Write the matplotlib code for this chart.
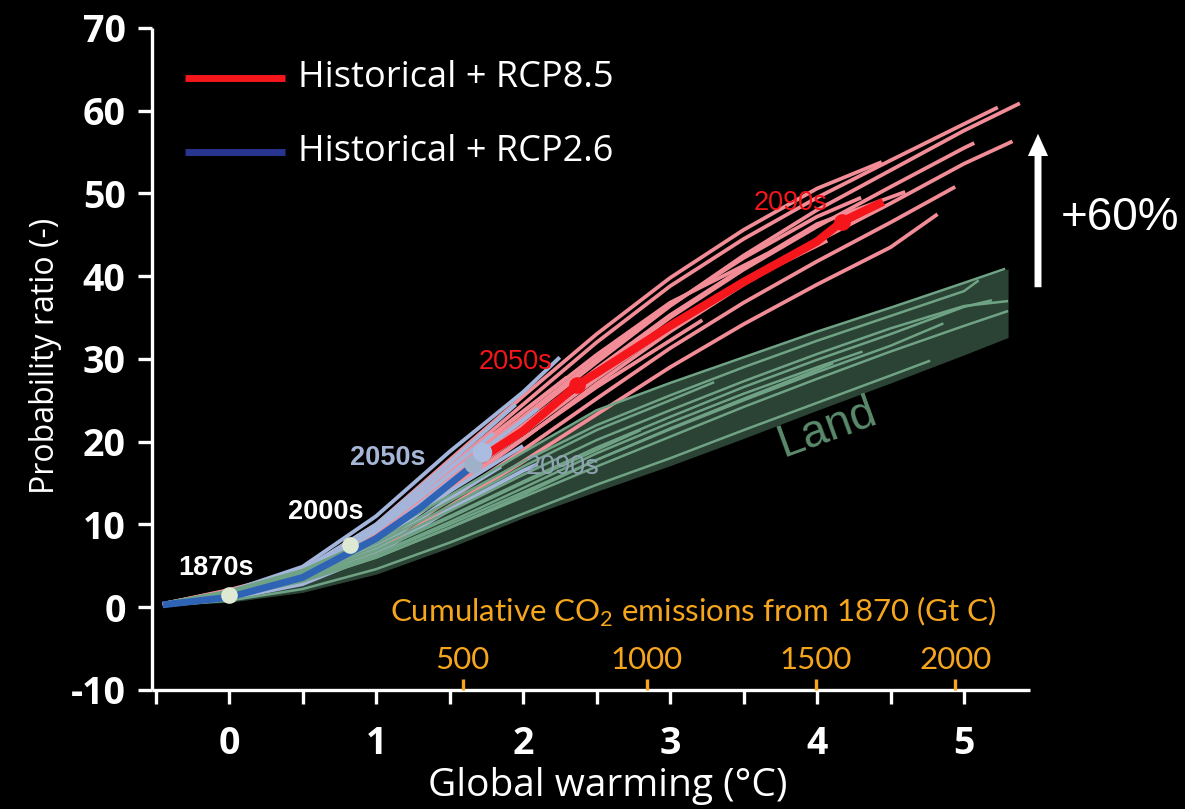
import numpy as np
import matplotlib
matplotlib.use("Agg")
import matplotlib.pyplot as plt
from matplotlib.patches import FancyArrowPatch
import matplotlib.transforms as mtransforms

# ---------------------------------------------------------------------------
# Data: probability ratio of hot extremes vs. global warming (deg C)
# ---------------------------------------------------------------------------
warming_nodes = [-0.45, 0.0, 0.5, 1.0, 1.5, 2.0, 2.5, 3.0, 3.5, 4.0, 4.5, 5.0]

# RCP8.5 ensemble members: values at the warming nodes, then the final point
rcp85_members = [
    [0.4, 1.8, 3.8, 8.8, 15.8, 22.6, 29.6, 36.4, 42.5, 48.0, 52.8, 57.6],
    [0.4, 2.0, 4.2, 9.6, 17.0, 24.5, 32.0, 38.8, 44.5, 49.5, 54.0, 58.4],
    [0.3, 1.6, 3.6, 8.4, 15.0, 21.5, 28.5, 35.0, 40.8, 46.0, 50.8, 55.5],
    [0.3, 1.5, 3.3, 7.7, 14.0, 20.3, 27.0, 33.3, 39.0, 44.2, 48.8, 53.6],
    [0.4, 2.1, 4.4, 10.0, 17.8, 25.5, 33.0, 39.8, 45.6, 50.6],
    [0.3, 1.4, 3.1, 7.2, 13.0, 19.0, 25.2, 31.3, 36.8, 41.8, 46.5],
    [0.3, 1.3, 2.9, 6.7, 12.2, 17.6, 23.3, 29.0, 34.2, 39.0, 43.5],
    [0.3, 1.6, 3.5, 8.2, 14.8, 21.0, 27.6, 33.8, 39.3],
    [0.4, 1.9, 3.9, 9.1, 16.5, 23.6, 30.5, 36.8],
    [0.3, 1.5, 3.4, 8.0, 14.3, 20.4, 26.6],
    [0.3, 1.7, 3.7, 8.6, 15.5, 22.0, 28.8, 35.3, 41.0, 46.3],
    [0.4, 1.8, 3.9, 9.0, 16.2, 23.0, 30.0, 36.5, 42.2, 47.2],
    [0.4, 2.0, 4.1, 9.4, 16.8],
]
rcp85_end = [(5.38, 60.9), (5.23, 60.4), (5.07, 56.1), (5.33, 56.3), (4.44, 53.8),
             (4.94, 50.8), (4.82, 47.5), (4.07, 44.3), (3.66, 42.7), (3.22, 34.7),
             (4.60, 50.2), (4.30, 49.5), (2.30, 27.8)]

# RCP2.6 ensemble members
rcp26_members = [
    [0.3, 1.9, 4.9, 11.0, 18.8, 26.0],
    [0.3, 1.7, 4.5, 10.0, 17.5],
    [0.2, 1.4, 3.7, 8.4, 15.2],
    [0.3, 1.5, 4.1, 9.2, 16.0, 22.6],
    [0.2, 1.1, 3.0, 7.0, 13.2],
    [0.3, 1.6, 4.2, 9.5, 16.8],
    [0.2, 1.2, 3.3, 7.6, 14.0],
    [0.2, 1.0, 2.8, 6.4, 11.8, 16.5],
]
rcp26_end = [(2.25, 30.2), (1.95, 24.5), (1.90, 20.5), (2.10, 24.0),
             (1.85, 17.0), (1.80, 21.0), (2.00, 19.5), (2.10, 17.3)]

# Land: ensemble range and members
land_upper = [0.5, 2.0, 4.5, 8.5, 13.5, 18.7, 23.8, 27.1, 30.2, 33.3, 36.2, 39.2, 40.9]
land_lower = [0.2, 0.6, 1.8, 4.0, 7.2, 10.8, 14.0, 17.1, 20.4, 23.8, 27.1, 30.5, 32.6]
land_range_x = warming_nodes + [5.3]
land_members = [
    [0.5, 2.0, 4.5, 8.5, 13.5, 18.7, 23.8, 27.1, 30.2, 33.3, 36.2, 39.2],
    [0.5, 1.9, 4.3, 8.0, 12.8, 17.6, 22.0, 25.6, 29.0, 32.2, 35.2, 38.2],
    [0.4, 1.7, 3.9, 7.3, 11.6, 16.0, 20.2, 23.8, 27.3, 30.6, 33.7, 36.4],
    [0.4, 1.6, 3.7, 6.9, 11.0, 15.2, 19.3, 23.0, 26.6, 29.9, 33.0, 36.3],
    [0.3, 1.4, 3.3, 6.3, 10.0, 13.9, 17.8, 21.5, 25.0, 28.4, 31.6],
    [0.2, 0.8, 2.2, 4.6, 7.8, 11.3, 14.8, 18.0, 21.4, 24.7, 28.0],
    [0.3, 1.3, 3.4, 6.4, 10.3, 14.4, 18.6, 22.3, 25.8, 29.0],
    [0.3, 1.2, 3.1, 6.0, 9.6, 13.6, 17.8, 21.6, 25.2, 28.7],
    [0.4, 1.8, 4.1, 7.7, 12.2, 17.0, 21.4, 25.0],
    [0.3, 1.5, 3.6, 6.8, 10.8, 15.0, 19.0],
    [0.3, 1.3, 3.2, 6.0, 9.6, 13.3, 17.0, 20.6, 24.2, 27.6, 30.9, 34.0],
]
land_end = [(5.28, 40.9), (5.10, 39.5), (5.30, 37.0), (5.19, 37.1), (4.86, 34.3),
            (4.77, 29.8), (4.31, 30.9), (4.11, 29.5), (3.30, 27.2), (2.80, 21.4),
            (5.30, 35.8)]

# Multi-model means
hist_mean_x = [-0.45, 0.0, 0.5, 1.0, 1.3, 1.65]
hist_mean_y = [0.3, 1.2, 3.6, 8.3, 12.0, 17.0]
rcp85_mean_x = [1.68, 2.0, 2.37, 2.5, 3.0, 3.5, 4.0, 4.17, 4.45]
rcp85_mean_y = [17.6, 21.3, 26.9, 28.3, 34.0, 39.3, 44.2, 46.6, 49.0]

# Decade markers: (label, warming, ratio)
decades_hist = [("1870s", 0.0, 1.5), ("2000s", 0.82, 7.5)]
decades_rcp26 = [("2050s", 1.72, 18.8), ("2090s", 1.66, 17.3)]
decades_rcp85 = [("2050s", 2.37, 26.9), ("2090s", 4.17, 46.6)]

# Cumulative CO2 emissions scale and the warming it corresponds to
co2_ticks = [500, 1000, 1500, 2000]
co2_warming = [1.59, 2.84, 3.99, 4.94]

y_ticks = [-10, 0, 10, 20, 30, 40, 50, 60, 70]
x_ticks = [0, 1, 2, 3, 4, 5]

# ---------------------------------------------------------------------------
# Colours
# ---------------------------------------------------------------------------
BG = "black"
PINK = "#f28d97"
RED = "#f5161b"
LIGHTBLUE = "#a4b5db"
BLUE = "#2f63b6"
LEG_BLUE = "#27358f"
LAND_FILL = "#2b4334"
LAND_LINE = "#70a385"
ORANGE = "#f6a61d"

plt.rcParams["mathtext.fontset"] = "custom"
plt.rcParams["mathtext.rm"] = "Lato"

fig = plt.figure(figsize=(11.85, 8.09), dpi=100, facecolor=BG)
ax = fig.add_axes([0.1283, 0.1471, 0.7409, 0.8183], facecolor=BG)
ax.set_xlim(-0.524, 5.449)
ax.set_ylim(-10, 70)


def member_xy(values, end):
    xs = list(warming_nodes[:len(values)]) + [end[0]]
    ys = list(values) + [end[1]]
    return xs, ys


# Land range and members
ax.fill_between(land_range_x, land_lower, land_upper, color=LAND_FILL, lw=0, zorder=1)
for vals, end in zip(land_members, land_end):
    xs, ys = member_xy(vals, end)
    ax.plot(xs, ys, color=LAND_LINE, lw=1.8, zorder=4, solid_capstyle="butt")

# RCP8.5 members
for vals, end in zip(rcp85_members, rcp85_end):
    xs, ys = member_xy(vals, end)
    ax.plot(xs, ys, color=PINK, lw=2.7, zorder=2, solid_capstyle="butt")

# RCP2.6 members
for vals, end in zip(rcp26_members, rcp26_end):
    xs, ys = member_xy(vals, end)
    ax.plot(xs, ys, color=LIGHTBLUE, lw=2.8, zorder=3, solid_capstyle="butt")

# Means
ax.plot(hist_mean_x, hist_mean_y, color=BLUE, lw=5, zorder=5, solid_capstyle="butt")
ax.plot(rcp85_mean_x, rcp85_mean_y, color=RED, lw=6, zorder=5, solid_capstyle="butt")

# Decade markers
for lab, xv, yv in decades_hist:
    ax.plot(xv, yv, "o", ms=12, color="#dde9d2", zorder=6, mew=0)
ax.plot(decades_rcp26[1][1], decades_rcp26[1][2], "o", ms=13, color="#9fb1c9", zorder=6, mew=0)
ax.plot(decades_rcp26[0][1], decades_rcp26[0][2], "o", ms=14, color="#aabde1", zorder=6, mew=0)
for lab, xv, yv in decades_rcp85:
    ax.plot(xv, yv, "o", ms=12, color=RED, zorder=6, mew=0)

lab_font = dict(family=["Liberation Sans", "DejaVu Sans"], fontsize=19.5, ha="center", va="center", zorder=7)
ax.text(-0.088, 4.8, "1870s", color="white", fontweight="bold", **lab_font)
ax.text(0.66, 11.5, "2000s", color="white", fontweight="bold", **lab_font)
ax.text(1.08, 18.0, "2050s", color="#a6b6d6", fontweight="bold", **lab_font)
ax.text(2.27, 16.9, "2090s", color="#8fa3b4", **lab_font)
ax.text(1.95, 29.6, "2050s", color=RED, **lab_font)
ax.text(3.82, 48.8, "2090s", color=RED, **lab_font)

ax.text(4.07, 21.6, "Land", color="#5a8a6b", fontsize=33, rotation=20,
        family=["Liberation Sans", "DejaVu Sans"], ha="center", va="center", zorder=7)

# Legend
leg_tr = ax.transAxes
for ypos, col, txt in [(0.925, RED, "Historical + RCP8.5"), (0.813, LEG_BLUE, "Historical + RCP2.6")]:
    ax.plot([0.038, 0.151], [ypos, ypos], color=col, lw=5, transform=leg_tr, solid_capstyle="butt", clip_on=False)
    ax.text(0.166, ypos, txt, color="white", fontsize=26, family=["Open Sans", "DejaVu Sans"],
            ha="left", va="center", transform=leg_tr)

# Axes styling
for side in ["top", "right"]:
    ax.spines[side].set_visible(False)
for side in ["left", "bottom"]:
    ax.spines[side].set_color("white")
    ax.spines[side].set_linewidth(2.4)
    ax.spines[side].set_capstyle("butt")

ax.set_yticks(y_ticks)
ax.set_yticklabels([str(v) for v in y_ticks])
ax.set_xticks(x_ticks)
ax.set_xticklabels([str(v) for v in x_ticks])
ax.set_xticks([v + 0.5 for v in [-1] + x_ticks[:-1]], minor=True)
ax.tick_params(axis="both", which="both", colors="white", width=2.4, length=10, direction="out")
ax.tick_params(axis="y", pad=9, labelsize=27)
ax.tick_params(axis="x", pad=15, labelsize=27)
for lbl in ax.get_yticklabels() + ax.get_xticklabels():
    lbl.set_family(["Open Sans", "DejaVu Sans"])
    lbl.set_fontweight("bold")

ax.set_ylabel("Probability ratio (-)", color="white", fontsize=23,
              family=["Open Sans", "DejaVu Sans"])
ax.yaxis.set_label_coords(-0.102, 0.505)
ax.set_xlabel("Global warming (°C)", color="white", fontsize=28,
              family=["Open Sans", "DejaVu Sans"])
ax.xaxis.set_label_coords(0.519, -0.116)

# Cumulative CO2 emission scale along the bottom axis
blend = mtransforms.blended_transform_factory(ax.transData, ax.transAxes)
ax.vlines(co2_warming, 0.0, 0.016, colors=ORANGE, lw=2.4, transform=blend, zorder=8, clip_on=False)
for cv, wv in zip(co2_ticks, co2_warming):
    ax.text(wv, 0.046, str(cv), color=ORANGE, fontsize=22.5, family=["Lato", "DejaVu Sans"],
            ha="center", va="center", transform=blend)
ax.text(3.16, 0.118, "Cumulative CO$_2$ emissions from 1870 (Gt C)", color=ORANGE, fontsize=22.5,
        family=["Lato", "DejaVu Sans"], ha="center", va="center", transform=blend)

# +60% arrow
arrow = FancyArrowPatch((1038, 809 - 290), (1038, 809 - 131), transform=None,
                        arrowstyle="simple,head_length=1.6,head_width=1.45,tail_width=0.5",
                        mutation_scale=10, color="white", lw=0)
fig.patches.append(arrow)
fig.text(1120 / 1185, 1 - 218 / 809, "+60%", color="white", fontsize=33,
         family=["Liberation Sans", "DejaVu Sans"], ha="center", va="center")

fig.savefig("out.png", dpi=100, facecolor=BG)
